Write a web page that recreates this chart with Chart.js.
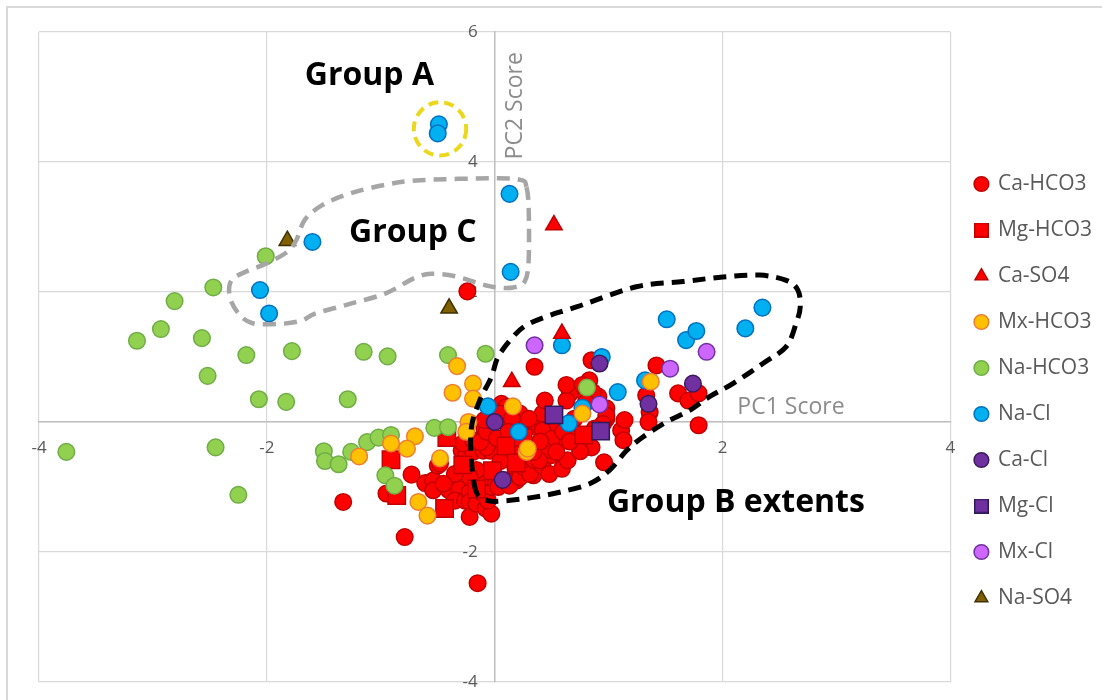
<!DOCTYPE html>
<html>
<head>
<meta charset="utf-8">
<title>PC scores by water type</title>
<script src="https://cdn.jsdelivr.net/npm/chart.js@4.4.1/dist/chart.umd.min.js"></script>
<style>
  html, body { margin: 0; padding: 0; background: #fff; }
  #wrap { position: relative; width: 1102px; height: 700px; overflow: hidden; }
  #frame { position: absolute; left: 6px; top: 6px; width: 1200px; height: 800px; border: 2px solid #d9d9d9; }
  #myChart { position: absolute; left: 0; top: 0; }
</style>
</head>
<body>
<div id="wrap">
  <div id="frame"></div>
  <canvas id="myChart" width="1102" height="700"></canvas>
</div>
<script>
// sample scores [PC1, PC2], one list per water type
var seriesNames = ['Ca-HCO3', 'Mg-HCO3', 'Ca-SO4', 'Mx-HCO3', 'Na-HCO3', 'Na-Cl', 'Ca-Cl', 'Mg-Cl', 'Mx-Cl', 'Na-SO4'];

var caHCO3 = [
  [-0.24, 2.01], [-0.15, -2.48], [-0.79, -1.77], [-1.33, -1.23], [0.35, 0.85],
  [-0.95, -1.10], [-0.73, -0.81], [-0.61, -0.94], [-0.54, -0.90], [-0.50, -0.67],
  [-0.48, -0.64], [-0.54, -1.05], [-0.40, -1.05], [-0.31, -1.03], [-0.35, -1.21],
  [-0.26, -1.21], [-0.22, -1.08], [-0.22, -1.23], [-0.22, -1.46], [-0.16, -1.26],
  [-0.12, -1.08], [-0.08, -1.33], [-0.03, -1.41], [-0.06, -1.21], [-0.03, -1.00],
  [-0.04, -0.85], [-0.13, -0.90], [-0.16, -0.74], [-0.22, -0.85], [-0.29, -0.44],
  [-0.25, -0.49], [-0.19, -0.46], [-0.10, -0.44], [-0.04, -0.44], [-0.07, -0.39],
  [-0.28, -0.33], [-0.19, -0.28], [-0.13, -0.31], [-0.09, -0.10], [-0.07, -0.15],
  [-0.09, 0.03], [0.06, 0.28], [0.10, 0.23], [0.09, 0.08], [0.22, 0.13],
  [0.04, 0.13], [0.15, 0.05], [0.28, -0.05], [0.37, -0.08], [0.23, -0.26],
  [0.25, -0.51], [0.18, -0.69], [0.29, -0.62], [0.19, -0.90], [0.34, -0.82],
  [0.10, -0.90], [0.03, -1.00], [0.13, -0.98], [0.22, -0.85], [0.25, -0.69],
  [0.31, -0.80], [0.35, -0.59], [0.42, -0.68], [0.48, -0.80], [0.59, -0.72],
  [0.64, -0.59], [0.50, -0.51], [0.56, -0.33], [0.54, -0.03], [0.45, 0.08],
  [0.42, 0.13], [0.42, -0.13], [0.50, -0.26], [0.44, -0.44], [0.54, -0.46],
  [0.39, -0.59], [0.34, -0.46], [0.96, -0.62], [0.85, -0.39], [0.69, -0.18],
  [0.98, 0.05], [0.98, 0.21], [0.98, 0.10], [0.91, 0.39], [1.11, -0.13],
  [1.13, -0.28], [1.14, 0.03], [1.33, 0.41], [1.36, 0.15], [1.35, 0.00],
  [1.42, 0.87], [1.61, 0.44], [1.70, 0.33], [1.79, 0.44], [1.79, -0.05],
  [0.85, 0.95], [0.83, 0.64], [0.73, 0.51], [0.66, 0.44], [0.63, 0.33],
  [0.44, 0.33], [0.63, 0.57], [0.77, 0.57], [0.86, 0.46], [0.95, -0.03],
  [0.60, -0.15], [0.70, 0.05], [0.75, -0.45], [0.66, -0.30], [0.88, -0.10],
  [0.80, 0.30], [0.30, 0.05], [0.15, -0.40], [0.05, -0.60], [0.40, -0.30],
  [-0.35, -0.80], [-0.45, -0.95], [0.02, -0.25], [0.12, -0.15]
];
var mgHCO3 = [
  [-0.91, -0.58], [-0.42, -0.24], [-0.28, -0.66], [-0.86, -1.13], [-0.44, -1.33],
  [-0.02, -0.75], [0.10, -0.37], [0.19, -0.63], [0.25, -0.24], [0.78, -0.20], [-0.16, -1.03]
];
var caSO4 = [[0.52, 3.03], [0.59, 1.36], [0.15, 0.62]];
var mxHCO3 = [
  [-0.33, 0.86], [-0.19, 0.59], [-0.37, 0.45], [-0.19, 0.36], [0.16, 0.24],
  [-0.23, 0.00], [-0.25, -0.15], [-0.70, -0.22], [-0.77, -0.41], [-0.91, -0.33],
  [-1.19, -0.53], [-0.48, -0.56], [-0.67, -1.23], [-0.59, -1.44], [0.28, -0.46],
  [0.29, -0.41], [0.77, 0.13], [1.37, 0.62]
];
var naHCO3 = [
  [-2.01, 2.55], [-2.47, 2.07], [-2.81, 1.86], [-2.93, 1.43], [-3.14, 1.25],
  [-2.57, 1.29], [-2.18, 1.03], [-1.78, 1.09], [-2.52, 0.71], [-2.07, 0.35],
  [-1.83, 0.31], [-1.29, 0.35], [-1.15, 1.08], [-0.94, 1.01], [-0.41, 1.03],
  [-0.08, 1.05], [-3.76, -0.46], [-2.45, -0.39], [-2.25, -1.12], [-1.50, -0.45],
  [-1.49, -0.60], [-1.37, -0.65], [-1.26, -0.46], [-1.12, -0.31], [-1.02, -0.24],
  [-0.91, -0.20], [-0.96, -0.82], [-0.88, -0.98], [-0.53, -0.09], [-0.41, -0.08],
  [0.81, 0.53]
];
var naCl = [
  [-0.49, 4.58], [-0.50, 4.44], [0.13, 3.51], [-1.60, 2.77], [-2.06, 2.03],
  [-1.98, 1.67], [0.14, 2.31], [1.51, 1.58], [1.68, 1.26], [1.77, 1.40],
  [2.20, 1.44], [2.35, 1.76], [0.59, 1.18], [-0.06, 0.24], [0.94, 1.00],
  [1.08, 0.46], [0.65, -0.02], [0.77, 0.22], [0.21, -0.15], [1.32, 0.64]
];
var caCl = [[0.92, 0.90], [0.00, 0.00], [1.35, 0.28], [1.74, 0.59], [0.07, -0.89]];
var mgCl = [[0.52, 0.11], [0.93, -0.14]];
var mxCl = [[0.35, 1.18], [0.92, 0.27], [1.86, 1.08], [1.54, 0.82]];
var naSO4 = [[-1.82, 2.79], [-0.40, 1.75]];

var seriesData = [caHCO3, mgHCO3, caSO4, mxHCO3, naHCO3, naCl, caCl, mgCl, mxCl, naSO4];

var xTicks = [-4, -2, 0, 2, 4];
var yTicks = [-4, -2, 0, 2, 4, 6];

// hand drawn group outlines, in score units
var groupARing = { x: -0.48, y: 4.51, rx: 0.23, ry: 0.41 };
var groupCOutline = [
  [0.278, 3.62], [0.237, 3.72], [0.026, 3.75], [-0.649, 3.72], [-0.956, 3.65],
  [-1.263, 3.52], [-1.511, 3.34], [-1.667, 3.11], [-1.741, 2.80], [-1.818, 2.62],
  [-2.003, 2.44], [-2.188, 2.31], [-2.311, 2.18], [-2.326, 1.93], [-2.249, 1.67],
  [-2.126, 1.52], [-1.880, 1.51], [-1.695, 1.56], [-1.572, 1.67], [-1.264, 1.82],
  [-0.956, 1.98], [-0.711, 2.21], [-0.556, 2.28], [-0.342, 2.24], [-0.095, 2.11],
  [0.026, 2.07], [0.161, 2.07], [0.263, 2.16], [0.298, 2.49], [0.298, 3.31]
];
var groupBOutline = [
  [-0.161, -1.08], [-0.204, -0.59], [-0.204, -0.08], [-0.132, 0.33], [-0.029, 0.69],
  [0.029, 1.00], [0.161, 1.31], [0.278, 1.49], [0.482, 1.64], [0.717, 1.77],
  [1.243, 2.08], [1.652, 2.16], [2.003, 2.23], [2.325, 2.26], [2.559, 2.18],
  [2.661, 2.03], [2.682, 1.77], [2.646, 1.52], [2.559, 1.16], [2.354, 0.90],
  [2.090, 0.59], [1.886, 0.39], [1.711, 0.18], [1.506, 0.00], [1.301, -0.23],
  [1.158, -0.44], [1.009, -0.74], [0.833, -0.95], [0.570, -1.08], [0.336, -1.16],
  [0.103, -1.21], [-0.059, -1.21]
];
var groupLabels = [
  { text: 'Group A', x: -1.667, y: 5.19 },
  { text: 'Group C', x: -1.278, y: 2.77 },
  { text: 'Group B extents', x: 0.985, y: -1.39 }
];

var FONT = "'Open Sans', sans-serif";
Chart.defaults.font.family = FONT;

var markerStyles = [
  { shape: 'circle',   fill: '#ff0000', edge: '#c00000', r: 8.3,  order: 10 },
  { shape: 'rect',     fill: '#ff0000', edge: '#c00000', r: 12.3, order: 9 },
  { shape: 'triangle', fill: '#ff0000', edge: '#c00000', r: 9.5,  order: 6 },
  { shape: 'circle',   fill: '#ffc000', edge: '#ed7d31', r: 8.3,  order: 5 },
  { shape: 'circle',   fill: '#92d050', edge: '#70ad47', r: 8.3,  order: 8 },
  { shape: 'circle',   fill: '#00b0f0', edge: '#0070c0', r: 8.3,  order: 7 },
  { shape: 'circle',   fill: '#7030a0', edge: '#3b1a5e', r: 8.3,  order: 4 },
  { shape: 'rect',     fill: '#7030a0', edge: '#2e1a5a', r: 12.3, order: 3 },
  { shape: 'circle',   fill: '#cc66ff', edge: '#7030a0', r: 8.3,  order: 2 },
  { shape: 'triangle', fill: '#7f6000', edge: '#3f3000', r: 9.5,  order: 1 }
];

var datasets = seriesNames.map(function(name, i) {
  var s = markerStyles[i];
  return {
    label: name,
    data: seriesData[i].map(function(p) { return { x: p[0], y: p[1] }; }),
    pointStyle: s.shape,
    pointRadius: s.r,
    pointBackgroundColor: s.fill,
    pointBorderColor: s.edge,
    pointBorderWidth: 1.5,
    backgroundColor: s.fill,
    borderColor: s.edge,
    borderWidth: 1.5,
    order: s.order
  };
});

// legend squares drawn at full size (the built-in rect comes out small)
function legendSquare(fill, edge) {
  var c = document.createElement('canvas');
  c.width = 15;
  c.height = 15;
  var g = c.getContext('2d');
  g.fillStyle = fill;
  g.strokeStyle = edge;
  g.lineWidth = 1.5;
  g.fillRect(0.75, 0.75, 13.5, 13.5);
  g.strokeRect(0.75, 0.75, 13.5, 13.5);
  return c;
}

// closed smooth curve through the given pixel points
function smoothLoop(ctx, pts) {
  var n = pts.length;
  ctx.beginPath();
  ctx.moveTo(pts[0][0], pts[0][1]);
  for (var i = 0; i < n; i++) {
    var p0 = pts[(i - 1 + n) % n], p1 = pts[i], p2 = pts[(i + 1) % n], p3 = pts[(i + 2) % n];
    ctx.bezierCurveTo(
      p1[0] + (p2[0] - p0[0]) / 6, p1[1] + (p2[1] - p0[1]) / 6,
      p2[0] - (p3[0] - p1[0]) / 6, p2[1] - (p3[1] - p1[1]) / 6,
      p2[0], p2[1]);
  }
  ctx.closePath();
}

var axisTitles = {
  id: 'axisTitles',
  beforeDatasetsDraw: function(chart) {
    var ctx = chart.ctx, sx = chart.scales.x, sy = chart.scales.y;
    ctx.save();
    ctx.fillStyle = '#8c8c8c';
    ctx.font = "23px " + FONT;
    ctx.textBaseline = 'alphabetic';
    ctx.textAlign = 'left';
    ctx.fillText('PC1 Score', sx.getPixelForValue(2.13), sy.getPixelForValue(0.12));
    ctx.translate(sx.getPixelForValue(0.237), sy.getPixelForValue(4.04));
    ctx.rotate(-Math.PI / 2);
    ctx.fillText('PC2 Score', 0, 0);
    ctx.restore();
  }
};

var groupMarks = {
  id: 'groupMarks',
  afterDatasetsDraw: function(chart) {
    var ctx = chart.ctx, sx = chart.scales.x, sy = chart.scales.y;
    function px(p) { return [sx.getPixelForValue(p[0]), sy.getPixelForValue(p[1])]; }
    ctx.save();
    ctx.lineCap = 'butt';
    ctx.lineJoin = 'round';

    // Group A ring
    var cx = sx.getPixelForValue(groupARing.x), cy = sy.getPixelForValue(groupARing.y);
    var rx = Math.abs(sx.getPixelForValue(groupARing.x + groupARing.rx) - cx);
    var ry = Math.abs(sy.getPixelForValue(groupARing.y + groupARing.ry) - cy);
    ctx.beginPath();
    ctx.ellipse(cx, cy, rx, ry, 0, 0, Math.PI * 2);
    ctx.strokeStyle = '#ebd81c';
    ctx.lineWidth = 4;
    ctx.setLineDash([10, 6]);
    ctx.stroke();

    // Group C outline
    smoothLoop(ctx, groupCOutline.map(px));
    ctx.strokeStyle = '#a6a6a6';
    ctx.lineWidth = 4.5;
    ctx.setLineDash([13, 8]);
    ctx.stroke();

    // Group B outline
    smoothLoop(ctx, groupBOutline.map(px));
    ctx.strokeStyle = '#000000';
    ctx.lineWidth = 5;
    ctx.setLineDash([13, 8]);
    ctx.stroke();

    ctx.setLineDash([]);
    ctx.fillStyle = '#000000';
    ctx.font = "bold 32px " + FONT;
    ctx.textAlign = 'left';
    ctx.textBaseline = 'alphabetic';
    groupLabels.forEach(function(g) {
      ctx.fillText(g.text, sx.getPixelForValue(g.x), sy.getPixelForValue(g.y));
    });
    ctx.restore();
  }
};

var tickFont = { family: FONT, size: 17 };

var ctx = document.getElementById('myChart').getContext('2d');
var myChart = new Chart(ctx, {
  type: 'scatter',
  data: { datasets: datasets },
  options: {
    responsive: false,
    animation: false,
    layout: { padding: { left: 39, top: 32, bottom: 18, right: 0 } },
    scales: {
      x: {
        type: 'linear',
        position: { y: 0 },
        min: xTicks[0],
        max: xTicks[xTicks.length - 1],
        ticks: { stepSize: xTicks[1] - xTicks[0], color: '#595959', font: tickFont, padding: 16 },
        grid: { color: '#d9d9d9', lineWidth: 1.2, drawTicks: false },
        border: { color: '#bfbfbf', width: 1.5 }
      },
      y: {
        type: 'linear',
        position: { x: 0 },
        min: yTicks[0],
        max: yTicks[yTicks.length - 1],
        ticks: {
          stepSize: yTicks[1] - yTicks[0],
          color: '#595959',
          font: tickFont,
          // labels sit clear of the crossing axis line
          callback: function(value) { return value + '\u2002\u2002'; }
        },
        grid: { color: '#d9d9d9', lineWidth: 1.2, drawTicks: false },
        border: { color: '#bfbfbf', width: 1.5 }
      }
    },
    plugins: {
      tooltip: { enabled: false },
      legend: {
        position: 'right',
        align: 'center',
        title: { display: true, text: '', font: { size: 12 }, padding: { top: 0, bottom: 53.6 } },
        labels: {
          usePointStyle: true,
          boxWidth: 12,
          boxHeight: 10.4,
          padding: 25,
          color: '#595959',
          font: { family: FONT, size: 21 },
          sort: function(a, b) { return a.datasetIndex - b.datasetIndex; },
          generateLabels: function(chart) {
            var items = Chart.defaults.plugins.legend.labels.generateLabels(chart);
            items.forEach(function(item) {
              var s = markerStyles[item.datasetIndex];
              if (s.shape === 'rect') item.pointStyle = legendSquare(s.fill, s.edge);
            });
            return items;
          }
        }
      }
    }
  },
  plugins: [axisTitles, groupMarks]
});
</script>
</body>
</html>
